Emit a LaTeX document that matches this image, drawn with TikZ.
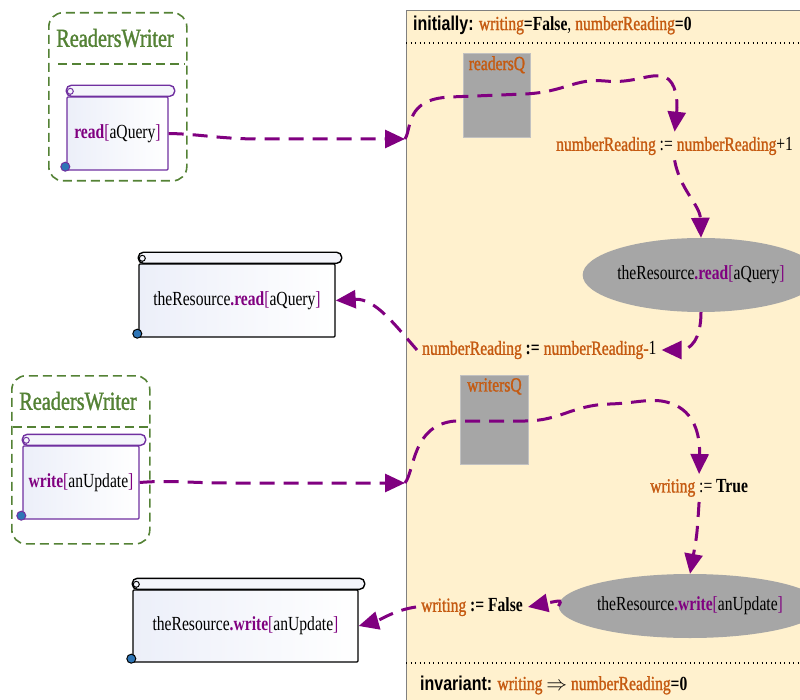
\documentclass[tikz,border=0pt]{standalone}
\usepackage{fontspec}
\setmainfont{Liberation Serif}[FakeStretch=0.78]
\newfontfamily\hsans{Liberation Sans}[FakeStretch=0.8]
\newfontfamily\fbold{Liberation Serif}[FakeStretch=0.78, FakeBold=1.2]
\usetikzlibrary{arrows.meta,calc,shapes.geometric}
\definecolor{orng}{RGB}{197,90,17}
\definecolor{purp}{RGB}{128,0,128}
\definecolor{scrpurp}{RGB}{112,48,160}
\definecolor{grn}{RGB}{84,130,53}
\definecolor{panelc}{RGB}{255,241,206}
\definecolor{qgray}{RGB}{166,166,166}
\definecolor{scrollbg}{RGB}{236,239,249}
\definecolor{curlc}{RGB}{46,117,182}
\newcommand\op[1]{\textcolor{orng}{\fbold #1}}
\newcommand\pp[1]{\textcolor{purp}{#1}}
\newcommand\fs{\fontsize{20}{24}\selectfont}
\newcommand\scrolldeco[2]{%
  \draw[#2, line width=1.4pt, fill=scrollbg!60, rounded corners=5pt]
    ($(#1.north west)+(0,-11)$) rectangle ($(#1.north east)+(6,0)$);
  \draw[#2, line width=1pt] ($(#1.north west)+(4,-5)$) circle (3pt);
  \fill[curlc] ($(#1.south west)+(-1,-4)$) circle (4.5pt);
  \draw[#2, line width=1pt] ($(#1.south west)+(-1,-4)$) circle (4.5pt);
}
\begin{document}
\begin{tikzpicture}[x=1pt,y=-1pt,
  flow/.style={draw=purp, line width=3pt, dash pattern=on 15pt off 9pt,
    -{Triangle[length=20pt,width=18pt]}},
  scrollbody/.style={line width=1.4pt, left color=scrollbg, right color=white,
    inner sep=0pt, font=\fs, rounded corners=1pt},
  txt/.style={font=\fs, inner sep=5pt},
  grp/.style={draw=grn, line width=1.6pt, dash pattern=on 9pt off 5pt,
    rounded corners=14pt, inner sep=0pt},
  grpsep/.style={draw=grn, line width=1.6pt, dash pattern=on 9pt off 5pt},
  qbox/.style={fill=qgray, draw=qgray!70!white, line width=0.8pt, inner sep=0pt},
  ell/.style={ellipse, fill=qgray, font=\fs, inner sep=0pt},
  dotline/.style={draw=black, line width=1.1pt, dash pattern=on 1pt off 3.5pt},
  title/.style={font=\fbold\fontsize{26}{30}\selectfont, text=grn, inner sep=0pt}
]
\useasboundingbox (0,0) rectangle (800,700);
\clip (0,0) rectangle (800,700);
\fill[white] (0,0) rectangle (800,700);

% panel
\node[draw=gray, line width=1pt, fill=panelc, anchor=north west,
  minimum width=420, minimum height=720, inner sep=0pt] (panel) at (406,10) {};
\draw[dotline] (406,43) -- (800,43);
\draw[dotline] (406,663) -- (800,663);
\node[font=\fs, anchor=west, inner sep=0pt] (init) at (413,25)
  {{\hsans\bfseries initially:} \op{writing}\textbf{=False}, \op{numberReading}\textbf{=0}};
\node[font=\fs, anchor=west, inner sep=0pt] (inv) at (420,685)
  {{\hsans\bfseries invariant:} \op{writing} $\Rightarrow$ \op{numberReading}\textbf{=0}};

% queues
\node[qbox, anchor=north west, minimum width=67, minimum height=84] (rq) at (463,53) {};
\node[font=\fs, text=orng, anchor=north, inner sep=3pt] (rql) at (rq.north) {\fbold readersQ};
\node[qbox, anchor=north west, minimum width=68, minimum height=89] (wq) at (460,375) {};
\node[font=\fs, text=orng, anchor=north, inner sep=3pt] (wql) at (wq.north) {\fbold writersQ};

% statements
\node[txt, anchor=west] (nr1) at (551,146) {\op{numberReading} := \op{numberReading}+1};
\node[ell, minimum width=212, minimum height=74] (e1) at (701,275)
  {theResource\pp{\textbf{.read}[}aQuery\pp{]}};
\node[txt, anchor=west] (nr2) at (417,350) {\op{numberReading} \textbf{:=} \op{numberReading-}1};
\node[txt, anchor=west] (wt) at (645,488) {\op{writing} := \textbf{True}};
\node[ell, minimum width=226, minimum height=64] (e2) at (690,606)
  {theResource\pp{\textbf{.write}[}anUpdate\pp{]}};
\node[txt, anchor=west] (wf) at (416,607) {\op{writing} \textbf{:= False}};

% groups
\node[grp, anchor=north west, minimum width=138, minimum height=168] (g1) at (48,12) {};
\node[title] (t1) at (115,38) {ReadersWriter};
\draw[grpsep] (58,64) -- (185,64);
\node[grp, anchor=north west, minimum width=138, minimum height=168] (g2) at (11,375) {};
\node[title] (t2) at (78,401) {ReadersWriter};
\draw[grpsep] (13,427) -- (148,427);

% scrolls
\node[scrollbody, draw=scrpurp, minimum width=101, minimum height=73] (s1) at (117.5,133.5)
  {\pp{\textbf{read}[}aQuery\pp{]}};
\scrolldeco{s1}{scrpurp}
\node[scrollbody, draw=black, minimum width=196, minimum height=73] (s2) at (237,300.5)
  {theResource\pp{\textbf{.read}[}aQuery\pp{]}};
\scrolldeco{s2}{black}
\node[scrollbody, draw=scrpurp, minimum width=116, minimum height=73] (s3) at (81,482.5)
  {\pp{\textbf{write}[}anUpdate\pp{]}};
\scrolldeco{s3}{scrpurp}
\node[scrollbody, draw=black, minimum width=225, minimum height=72] (s4) at (245.5,626)
  {theResource\pp{\textbf{.write}[}anUpdate\pp{]}};
\scrolldeco{s4}{black}

% entry points
\coordinate (in1) at (405,139);
\coordinate (in2) at (405,483);

% connectors
\draw[flow] (s1.east) .. controls (200,134) and (220,139) .. (260,139) -- (in1);
\draw[flow] (in1) .. controls (412,128) and (405,99) .. (450,97) -- (525,94)
  .. controls (565,92) and (575,78) .. (605,81)
  .. controls (635,84) and (650,72) .. (665,77)
  .. controls (676,82) and (678,100) .. (nr1.north);
\draw[flow] (nr1.south) .. controls (680,190) and (700,205) .. (e1.north);
\draw[flow] (e1.south) .. controls (701,340) and (690,350) .. (nr2.east);
\draw[flow] (nr2.west) .. controls (395,325) and (375,298) .. (s2.east);
\draw[flow] (s3.east) .. controls (170,480) and (190,483) .. (230,483) -- (in2);
\draw[flow] (in2) .. controls (415,470) and (412,425) .. (455,421) -- (525,421)
  .. controls (560,421) and (572,405) .. (610,404)
  .. controls (640,403) and (655,396) .. (675,405)
  .. controls (697,415) and (700,440) .. (wt.north);
\draw[flow] (wt.south) .. controls (697,535) .. (e2.north);
\draw[flow] (e2.west) .. controls (562,600) .. (wf.east);
\draw[flow] (wf.west) .. controls (395,610) and (380,620) .. (s4.east);
\end{tikzpicture}
\end{document}
